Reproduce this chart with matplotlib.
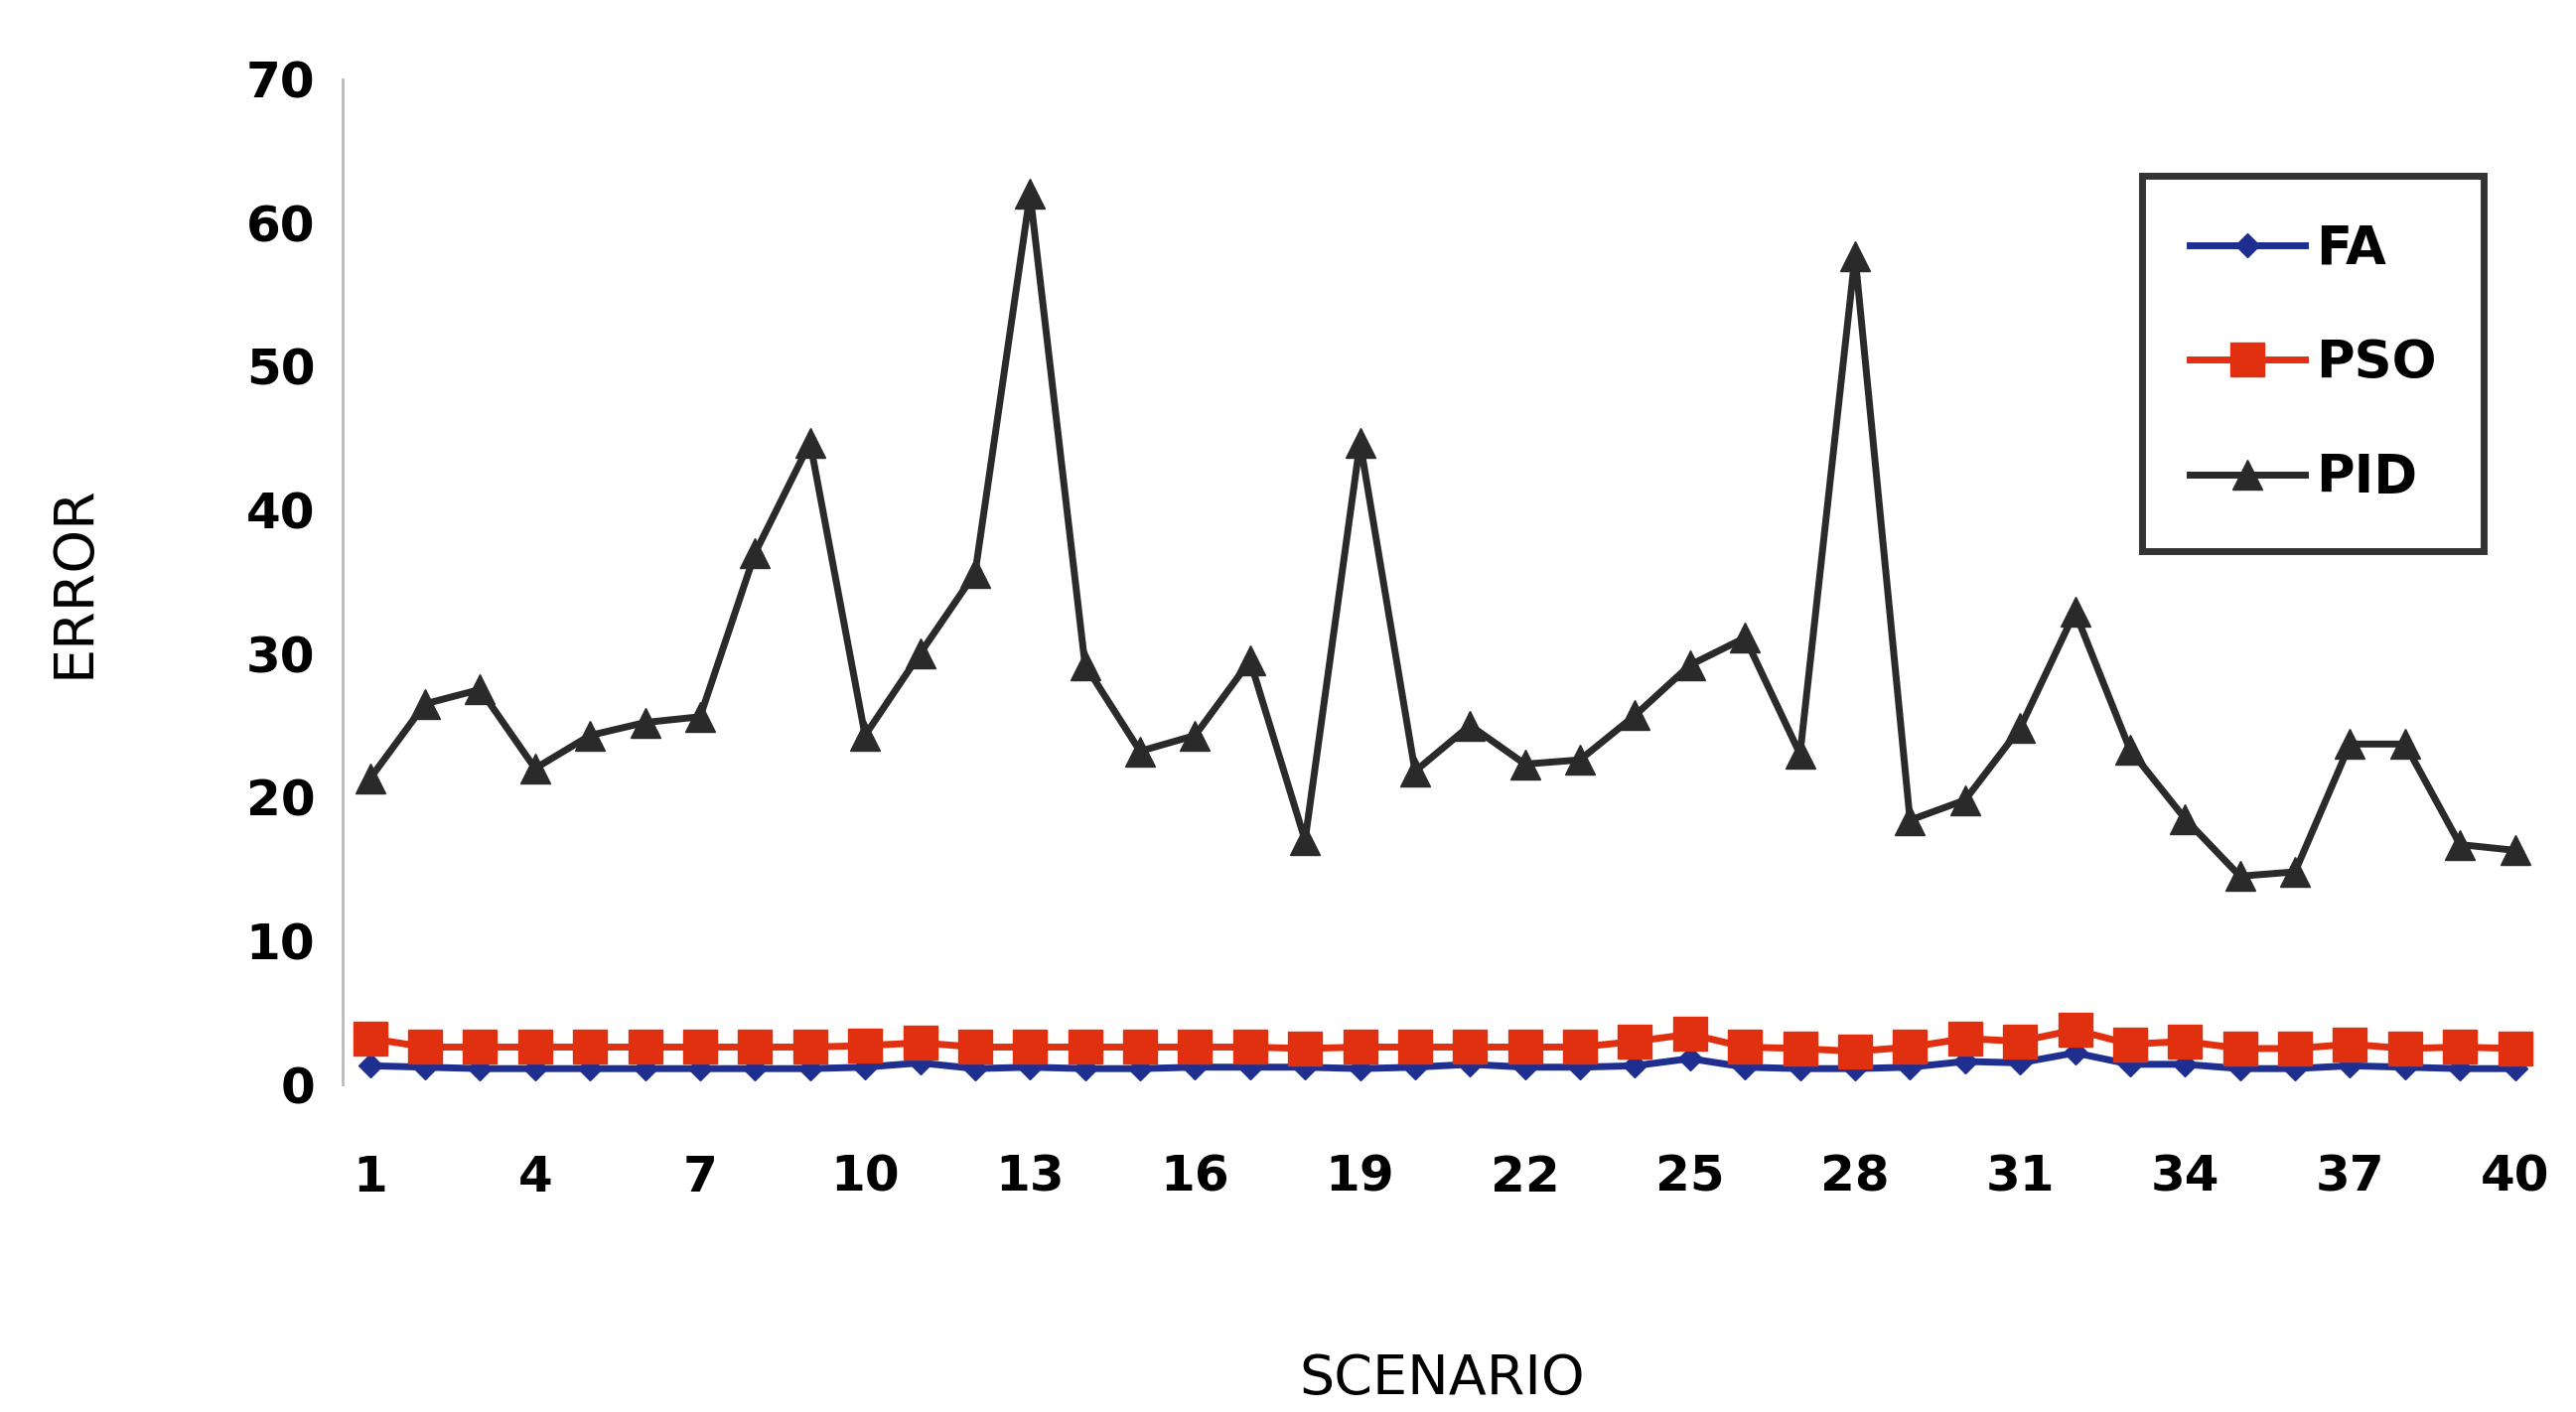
import matplotlib.pyplot as plt
import numpy as np

scenario = list(range(1, 41))
pid = [21.3, 26.5, 27.5, 22.0, 24.3, 25.2, 25.6, 37.0, 44.7, 24.3,
       30.0, 35.6, 62.0, 29.2, 23.2, 24.3, 29.5, 17.0, 44.7, 21.8,
       25.0, 22.3, 22.6, 25.7, 29.2, 31.1, 23.0, 57.7, 18.4, 19.8,
       24.8, 32.9, 23.3, 18.5, 14.5, 14.8, 23.7, 23.7, 16.7, 16.3]
pso = [3.2, 2.6, 2.6, 2.6, 2.6, 2.6, 2.6, 2.6, 2.6, 2.7,
       2.9, 2.6, 2.6, 2.6, 2.6, 2.6, 2.6, 2.5, 2.6, 2.6,
       2.6, 2.6, 2.6, 3.0, 3.5, 2.6, 2.5, 2.3, 2.6, 3.2,
       3.0, 3.8, 2.8, 3.0, 2.5, 2.5, 2.8, 2.5, 2.6, 2.5]
fa = [1.3, 1.2, 1.1, 1.1, 1.1, 1.1, 1.1, 1.1, 1.1, 1.2,
      1.5, 1.1, 1.2, 1.1, 1.1, 1.2, 1.2, 1.2, 1.1, 1.2,
      1.4, 1.2, 1.2, 1.3, 1.8, 1.2, 1.1, 1.1, 1.2, 1.6,
      1.5, 2.2, 1.4, 1.4, 1.1, 1.1, 1.3, 1.2, 1.1, 1.1]

fig = plt.figure(figsize=(25.94, 14.22), dpi=100)
ax = fig.add_axes([0.133, 0.232, 0.854, 0.712])

ax.plot(scenario, fa, color='#1f2f8f', lw=5, marker='D', ms=12, label='FA')
ax.plot(scenario, pso, color='#e03010', lw=5, marker='s', ms=24, label='PSO')
ax.plot(scenario, pid, color='#2a2a2a', lw=5, marker='^', ms=22, label='PID')

ax.set_xlim(0.5, 40.5)
ax.set_ylim(0, 70)
ax.set_yticks(range(0, 71, 10))
ax.set_xticks(range(1, 41, 3))
for s in ['top', 'right', 'bottom']:
    ax.spines[s].set_visible(False)
ax.spines['left'].set_color('#bbbbbb')
ax.spines['left'].set_linewidth(2)
ax.tick_params(axis='y', length=0, labelsize=36, pad=20)
ax.tick_params(axis='x', length=0, labelsize=36, pad=50)
for t in ax.get_xticklabels() + ax.get_yticklabels():
    t.set_fontweight('bold')
ax.set_xlabel('SCENARIO', fontsize=40, labelpad=110)
ax.set_ylabel('ERROR', fontsize=40, labelpad=30)
ax.yaxis.set_label_coords(-0.11, 0.5)

leg = ax.legend(loc='upper right', bbox_to_anchor=(0.985, 0.93), fontsize=38,
                frameon=True, fancybox=False, handlelength=2.2, labelspacing=1.2,
                borderpad=0.9, handletextpad=0.2)
leg.get_frame().set_edgecolor('black')
leg.get_frame().set_linewidth(5)
for t in leg.get_texts():
    t.set_fontweight('bold')

fig.savefig('out.png', dpi=100)
